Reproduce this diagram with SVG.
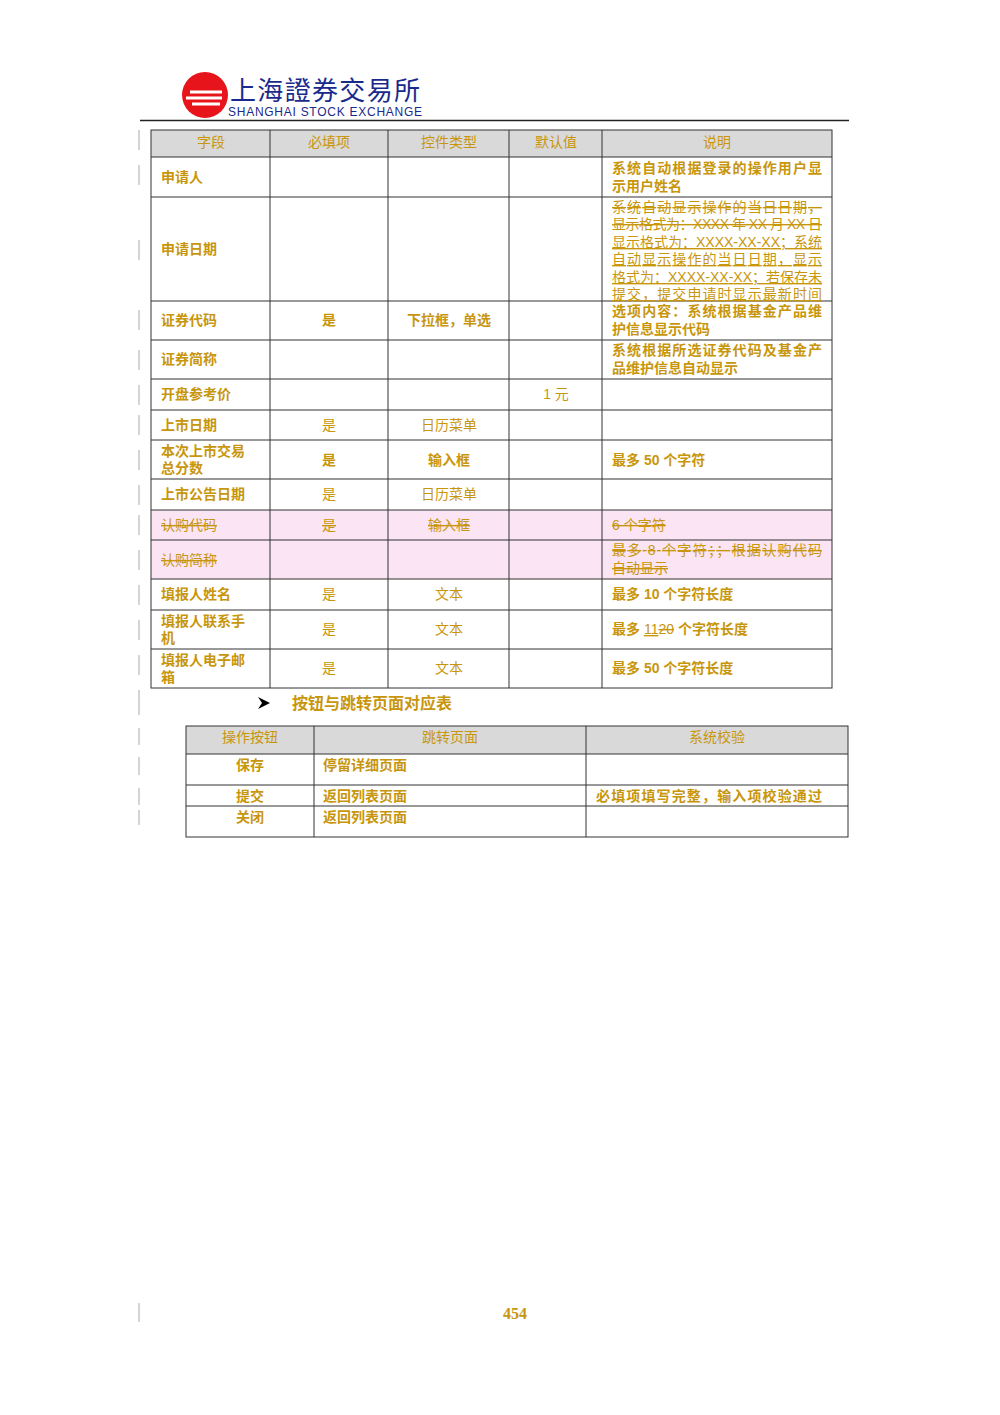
<svg xmlns="http://www.w3.org/2000/svg" width="1000" height="1415" viewBox="0 0 1000 1415">
<style>
.t{font-family:"Liberation Sans","Noto Sans CJK SC",sans-serif;font-size:14px;fill:#C8960C;font-weight:bold}
.n{font-weight:normal}
.c{text-anchor:middle}
.s{text-decoration:line-through}
.u{text-decoration:underline}
.g{stroke:#333;stroke-width:1;fill:none}
.m{stroke:#aaa;stroke-width:1}
</style>
<rect width="1000" height="1415" fill="#fff"/>
<g id="logo">
<circle cx="205" cy="95" r="23" fill="#e8141c"/>
<path d="M190 92 H222 M186 98 H222 M192 104 H220" stroke="#fff" stroke-width="3"/>
<text x="230" y="100" font-family="Noto Sans CJK SC,sans-serif" font-size="26" fill="#1a2a8c" textLength="190">上海證券交易所</text>
<text x="228" y="116" font-family="Liberation Sans,sans-serif" font-size="12" fill="#1a2a8c" textLength="194">SHANGHAI  STOCK  EXCHANGE</text>
<line x1="140" y1="120.5" x2="849" y2="120.5" stroke="#222" stroke-width="1.5"/>
</g>
<g id="margin">
<path class="m" d="M139 130V150M139 165V185M139 240V260M139 310V330M139 350V370M139 385V405M139 415V435M139 450V470M139 485V505M139 515V535M139 550V570M139 585V605M139 620V640M139 655V675M139 690V715M139 728V745M139 757V775M139 788V805M139 810V825M139 1303V1322"/>
</g>
<g id="table1">
<rect x="151" y="130" width="681" height="27" fill="#d9d9d9"/>
<rect x="151" y="510" width="681" height="69" fill="#fbe4f4"/>
<rect x="151" y="130" width="681" height="558" class="g"/>
<path class="g" d="M270 130V688M388 130V688M509 130V688M602 130V688M151 157H832M151 197H832M151 301H832M151 340H832M151 379H832M151 410H832M151 440H832M151 479H832M151 510H832M151 540H832M151 579H832M151 610H832M151 649H832"/>
<g class="t n c"><text x="211" y="147">字段</text><text x="329" y="147">必填项</text><text x="449" y="147">控件类型</text><text x="556" y="147">默认值</text><text x="717" y="147">说明</text></g>
<g class="t">
<text x="161" y="182">申请人</text>
<text x="612" y="173" textLength="210">系统自动根据登录的操作用户显</text><text x="612" y="191">示用户姓名</text>
<text x="161" y="254">申请日期</text>
<text x="161" y="325">证券代码</text><text x="329" y="325" class="c">是</text><text x="449" y="325" class="c">下拉框，单选</text>
<text x="612" y="316" textLength="210">选项内容：系统根据基金产品维</text><text x="612" y="334">护信息显示代码</text>
<text x="161" y="364">证券简称</text>
<text x="612" y="355" textLength="210">系统根据所选证券代码及基金产</text><text x="612" y="373">品维护信息自动显示</text>
<text x="161" y="399">开盘参考价</text><text x="556" y="399" class="c n">1 元</text>
<text x="161" y="430">上市日期</text><text x="329" y="430" class="c n">是</text><text x="449" y="430" class="c n">日历菜单</text>
<text x="161" y="456">本次上市交易</text><text x="161" y="473">总分数</text><text x="329" y="465" class="c">是</text><text x="449" y="465" class="c">输入框</text><text x="612" y="465">最多 50 个字符</text>
<text x="161" y="499">上市公告日期</text><text x="329" y="499" class="c n">是</text><text x="449" y="499" class="c n">日历菜单</text>
<text x="161" y="599">填报人姓名</text><text x="329" y="599" class="c n">是</text><text x="449" y="599" class="c n">文本</text><text x="612" y="599">最多 10 个字符长度</text>
<text x="161" y="626">填报人联系手</text><text x="161" y="643">机</text><text x="329" y="634" class="c n">是</text><text x="449" y="634" class="c n">文本</text>
<text x="612" y="634">最多 <tspan class="u n">11</tspan><tspan class="s n">20</tspan> 个字符长度</text>
<text x="161" y="665">填报人电子邮</text><text x="161" y="682">箱</text><text x="329" y="673" class="c n">是</text><text x="449" y="673" class="c n">文本</text><text x="612" y="673">最多 50 个字符长度</text>
</g>
<g class="t n">
<text x="161" y="530" class="s">认购代码</text><text x="329" y="530" class="c s">是</text><text x="449" y="530" class="c s">输入框</text><text x="612" y="530" class="s">6 个字符</text>
<text x="161" y="565" class="s">认购简称</text>
<text x="612" y="555" class="s" textLength="210">最多 8 个字符；；根据认购代码</text><text x="612" y="573" class="s">自动显示</text>
<text x="612" y="212" class="s" textLength="210">系统自动显示操作的当日日期，</text>
<text x="612" y="229" class="s" textLength="210">显示格式为：XXXX 年 XX 月 XX 日</text>
<text x="612" y="247" class="u" textLength="210">显示格式为：XXXX-XX-XX；系统</text>
<text x="612" y="264" class="u" textLength="210">自动显示操作的当日日期，显示</text>
<text x="612" y="282" class="u" textLength="210">格式为：XXXX-XX-XX；若保存未</text>
<text x="612" y="299" class="u" textLength="210">提交，提交申请时显示最新时间</text>
</g>
</g>
<g id="heading">
<path d="M258 697 L270 703 L258 709 L262 703 Z" fill="#000"/>
<text x="292" y="709" class="t" style="font-size:16px">按钮与跳转页面对应表</text>
</g>
<g id="table2">
<rect x="186" y="726" width="662" height="28" fill="#d9d9d9"/>
<rect x="186" y="726" width="662" height="111" class="g"/>
<path class="g" d="M314 726V837M586 726V837M186 754H848M186 785H848M186 806H848"/>
<g class="t n c"><text x="250" y="742">操作按钮</text><text x="450" y="742">跳转页面</text><text x="717" y="742">系统校验</text></g>
<g class="t">
<text x="250" y="770" class="c">保存</text><text x="323" y="770">停留详细页面</text>
<text x="250" y="801" class="c">提交</text><text x="323" y="801">返回列表页面</text><text x="596" y="801" textLength="226">必填项填写完整，输入项校验通过</text>
<text x="250" y="822" class="c">关闭</text><text x="323" y="822">返回列表页面</text>
</g>
</g>
<text x="515" y="1319" class="t c" style="font-family:'Liberation Serif',serif;font-size:16px">454</text>
</svg>
